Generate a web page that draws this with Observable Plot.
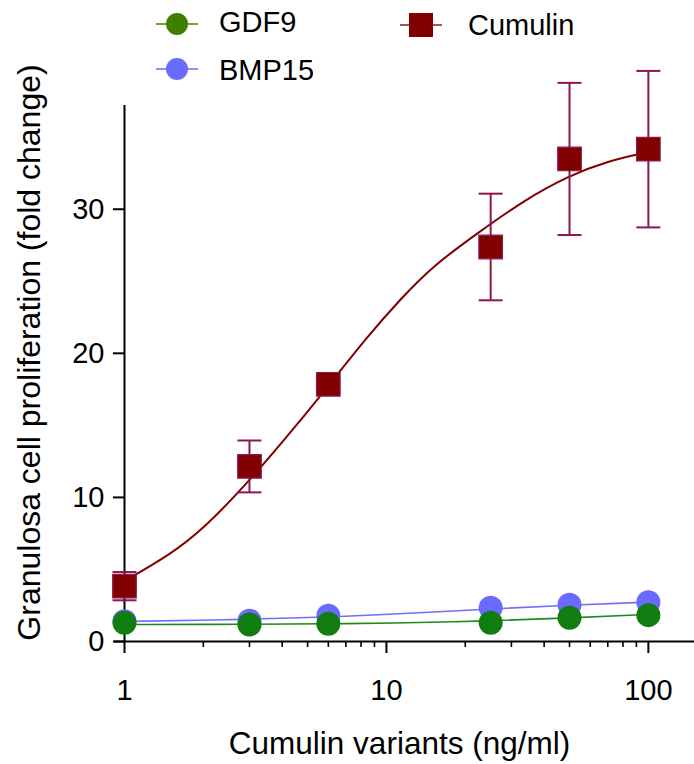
<!DOCTYPE html>
<html><head><meta charset="utf-8">
<script src="https://cdn.jsdelivr.net/npm/d3@7"></script>
<script src="https://cdn.jsdelivr.net/npm/@observablehq/plot@0.6"></script>
<style>
body{margin:0;background:#fff;font-family:"Liberation Sans",Arial,sans-serif;}
#wrap{position:relative;width:694px;height:764px;}
#legend{position:absolute;left:0;top:0;}
</style></head><body>
<div id="wrap"><div id="chart"></div><svg id="legend" width="694" height="100"></svg></div>
<script>
// Measured points
const doses = [1, 3, 6, 25, 50, 100];
const cumulinMean = [3.84, 12.15, 17.85, 27.38, 33.49, 34.17];
const cumulinSem  = [0.98, 1.80, 0.50, 3.70, 5.28, 5.43];
const gdf9Mean    = [1.30, 1.18, 1.23, 1.30, 1.65, 1.83];
const bmp15Mean   = [1.40, 1.44, 1.78, 2.34, 2.55, 2.73];

// Fitted curves
const cumulinFitX = [1, 1.5, 2, 3, 4.5, 6.16, 8.43, 11.35, 15.1, 22.9, 33.4, 49.3, 70, 100];
const cumulinFitY = [4.2, 6.05, 7.8, 11.14, 14.92, 18.0, 21.13, 23.8, 26.1, 28.5, 30.6, 32.3, 33.35, 33.97];
const gdf9FitX  = [1, 3, 6, 10, 25, 50, 100];
const gdf9FitY  = [1.18, 1.19, 1.23, 1.26, 1.42, 1.63, 1.88];
const bmp15FitX = [1, 3, 6, 10, 25, 50, 100];
const bmp15FitY = [1.39, 1.53, 1.70, 1.88, 2.26, 2.53, 2.73];

const majorTicksX = [1, 10, 100];
const minorTicksX = [2, 3, 4, 5, 6, 7, 8, 9, 20, 30, 40, 50, 60, 70, 80, 90];
const ticksY = [0, 10, 20, 30];
const xTitle = "Cumulin variants (ng/ml)";
const yTitle = "Granulosa cell proliferation (fold change)";
const seriesNames = ["GDF9", "BMP15", "Cumulin"];

const pts = doses.map((d, i) => ({dose: d, cm: cumulinMean[i], lo: cumulinMean[i] - cumulinSem[i], hi: cumulinMean[i] + cumulinSem[i], g: gdf9Mean[i], b: bmp15Mean[i]}));
const fitC = cumulinFitX.map((x, i) => ({x, y: cumulinFitY[i]}));
const fitG = gdf9FitX.map((x, i) => ({x, y: gdf9FitY[i]}));
const fitB = bmp15FitX.map((x, i) => ({x, y: bmp15FitY[i]}));

const cap = {draw(ctx, size) { const h = Math.sqrt(size / Math.PI); ctx.moveTo(-h, 0); ctx.lineTo(h, 0); }};
const font = "Liberation Sans, Arial, sans-serif";

const chart = Plot.plot({
  width: 694, height: 764,
  marginTop: 105, marginBottom: 123, marginLeft: 124, marginRight: 2,
  style: {fontFamily: font, background: "#fff", color: "#000", overflow: "visible"},
  x: {type: "log", domain: [1, 147.4]},
  y: {domain: [0, 37.2]},
  marks: [
    Plot.axisX({ticks: minorTicksX, tickSize: 6, tickFormat: () => "", strokeWidth: 1.6}),
    Plot.axisX({ticks: majorTicksX, tickSize: 12, tickPadding: 26, fontSize: 29, tickFormat: d => String(d), label: null, strokeWidth: 2}),
    Plot.axisY({ticks: ticksY, tickSize: 11, tickPadding: 9, fontSize: 29, tickFormat: d => String(d), label: null, strokeWidth: 2}),
    Plot.ruleY([0], {insetLeft: -10, insetRight: -2, stroke: "#000", strokeWidth: 2}),
    Plot.ruleX([1], {stroke: "#000", strokeWidth: 2}),
    Plot.text([yTitle], {text: d => d, frameAnchor: "left", textAnchor: "middle", lineAnchor: "middle", rotate: -90, dx: -95, dy: -21, fontSize: 32}),
    Plot.text([xTitle], {text: d => d, frameAnchor: "bottom", textAnchor: "middle", lineAnchor: "middle", dx: -9, dy: 102, fontSize: 31.5}),
    Plot.line(fitB, {x: "x", y: "y", stroke: "#7070ff", strokeWidth: 1.6, curve: "basis"}),
    Plot.line(fitG, {x: "x", y: "y", stroke: "#1d8a1d", strokeWidth: 1.6, curve: "basis"}),
    Plot.line(fitC, {x: "x", y: "y", stroke: "#800000", strokeWidth: 2, curve: "basis"}),
    Plot.ruleX(pts, {x: "dose", y1: "lo", y2: "hi", stroke: "#8b1650", strokeWidth: 2}),
    Plot.dot(pts, {x: "dose", y: "lo", symbol: cap, r: 12, stroke: "#8b1650", strokeWidth: 2, fill: "none"}),
    Plot.dot(pts, {x: "dose", y: "hi", symbol: cap, r: 12, stroke: "#8b1650", strokeWidth: 2, fill: "none"}),
    Plot.dot(pts, {x: "dose", y: "cm", symbol: "square", r: 13.3, fill: "#800000", stroke: "#8b1a55", strokeWidth: 1.2}),
    Plot.dot(pts, {x: "dose", y: "b", r: 12, fill: "#6a6aff"}),
    Plot.dot(pts, {x: "dose", y: "g", r: 12, fill: "#117d11"})
  ]
});
document.getElementById("chart").appendChild(chart);

// Legend
const lg = d3.select("#legend");
const items = [
  {name: seriesNames[0], x: 177, y: 24, color: "#3f7f00", shape: "circle", tx: 219, ty: 32},
  {name: seriesNames[1], x: 177, y: 69, color: "#6a6aff", shape: "circle", tx: 219, ty: 80},
  {name: seriesNames[2], x: 421, y: 25, color: "#800000", shape: "square", tx: 468, ty: 35}
];
for (const it of items) {
  lg.append("line").attr("x1", it.x - 21).attr("x2", it.x + 21).attr("y1", it.y).attr("y2", it.y)
    .attr("stroke", it.shape === "square" ? "#8b1a2a" : it.color).attr("stroke-width", 1.6);
  if (it.shape === "circle") lg.append("circle").attr("cx", it.x).attr("cy", it.y).attr("r", 11).attr("fill", it.color);
  else lg.append("rect").attr("x", it.x - 12).attr("y", it.y - 12).attr("width", 24).attr("height", 24).attr("fill", it.color);
  lg.append("text").attr("x", it.tx).attr("y", it.ty).attr("font-size", 29).attr("font-family", font).attr("fill", "#000").text(it.name);
}
</script></body></html>
